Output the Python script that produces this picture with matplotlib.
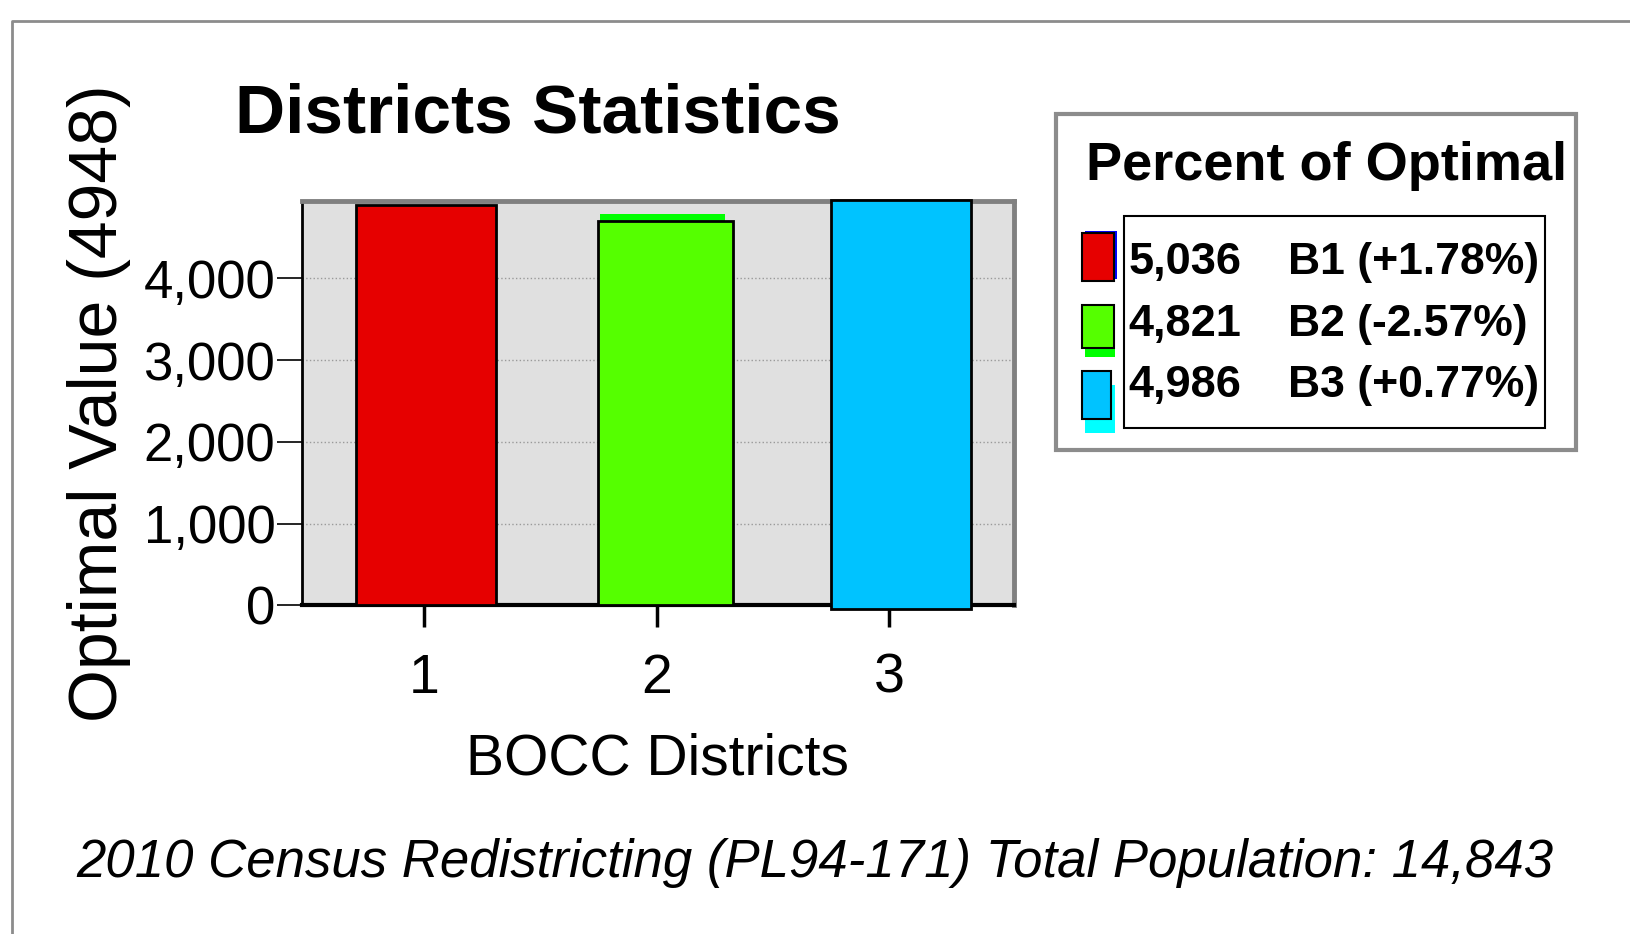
import matplotlib
matplotlib.use("Agg")
import matplotlib.pyplot as plt
from matplotlib.patches import Rectangle
from matplotlib.lines import Line2D

W, H = 1631, 934
S = 1631 / 1568  # layout was measured on a 1568 wide view

# data
districts = [1, 2, 3]
bar_values = [4900, 4700, 5010]
bar_bottoms = [0, 0, -50]
bar_colors = ["#e60000", "#55ff00", "#00c3ff"]
ghost_value = 4790
optimal = 4948
y_ticks = [0, 1000, 2000, 3000, 4000]
y_tick_labels = ["0", "1,000", "2,000", "3,000", "4,000"]
legend_values = ["5,036", "4,821", "4,986"]
legend_labels = ["B1 (+1.78%)", "B2 (-2.57%)", "B3 (+0.77%)"]

# the bars in the original sit a little off their ticks
bar_shift = [0.007, 0.037, 0.05]
bar_widths = [0.604, 0.577, 0.604]

plt.rcParams['font.family'] = ['Liberation Sans', 'DejaVu Sans']


def fx(px):
    return px * S / W


def fy(py):
    return 1 - py * S / H


def box(x0, y0, x1, y1, **kw):
    fig.add_artist(Rectangle((fx(x0), fy(y1)), fx(x1) - fx(x0), fy(y0) - fy(y1),
                             transform=fig.transFigure, **kw))


fig = plt.figure(figsize=(W / 100, H / 100), dpi=100)
fig.patch.set_facecolor("white")

# outer frame
fig.add_artist(Line2D([fx(12), fx(12), 1], [0, fy(20), fy(20)], color="#8c8c8c", lw=2))

ax = fig.add_axes([fx(290), fy(582), fx(975) - fx(290), fy(193) - fy(582)])
ax.set_facecolor("#e0e0e0")
ax.set_xlim(0.472, 3.537)
ax.set_ylim(0, optimal)

xpos = [d + s for d, s in zip(districts, bar_shift)]

# faint offset copy behind bar 2, as in the original
ax.bar(2.024, ghost_value, width=0.537, color="#00ff00", zorder=2)
bars = ax.bar(xpos, bar_values, width=bar_widths, bottom=bar_bottoms, color=bar_colors,
              edgecolor="black", linewidth=2, zorder=3)
for b in bars:
    b.set_clip_on(False)

ax.set_yticks(y_ticks)
ax.set_yticklabels(y_tick_labels)
ax.set_xticks(districts)
ax.grid(axis="y", color="#9a9a9a", linestyle=":", linewidth=1)
ax.set_axisbelow(True)
ax.tick_params(axis="y", length=18, width=1.2, labelsize=38, pad=1)
ax.tick_params(axis="x", length=16, width=2.5, labelsize=40, pad=18)

for s in ["top", "right"]:
    ax.spines[s].set_color("#808080")
    ax.spines[s].set_linewidth(3.5)
ax.spines["left"].set_linewidth(2)
ax.spines["bottom"].set_linewidth(3)

ax.set_xlabel("BOCC Districts", fontsize=41, labelpad=20)
fig.text(fx(95), fy(388), "Optimal Value (4948)", rotation=90, fontsize=49,
         ha="center", va="center")

fig.text(fx(517), fy(110), "Districts Statistics", fontsize=50, fontweight="bold",
         ha="center", va="center")
fig.text(fx(783), fy(830), "2010 Census Redistricting (PL94-171) Total Population: 14,843",
         fontsize=38, style="italic", ha="center", va="center")

# legend panel
box(1015, 110, 1515, 433, fill=False, edgecolor="#8c8c8c", lw=3)
fig.text(fx(1275), fy(160), "Percent of Optimal", fontsize=39, fontweight="bold",
         ha="center", va="center")
box(1081, 208, 1485, 411, fill=False, edgecolor="black", lw=1.5)

# little offset marks behind the swatches
box(1043, 222, 1074, 268, facecolor="#0000ff", edgecolor="none")
box(1043, 330, 1072, 343, facecolor="#00ff00", edgecolor="none")
box(1043, 370, 1072, 416, facecolor="#00ffff", edgecolor="none")

swatches = [(1040, 224, 1071, 270), (1040, 293, 1071, 335), (1040, 357, 1068, 403)]
row_y = [252, 312, 371]
for i in range(3):
    x0, y0, x1, y1 = swatches[i]
    box(x0, y0, x1, y1, facecolor=bar_colors[i], edgecolor="black", lw=1.5)
    fig.text(fx(1085), fy(row_y[i]), legend_values[i], fontsize=32.5, fontweight="bold",
             ha="left", va="center")
    fig.text(fx(1238), fy(row_y[i]), legend_labels[i], fontsize=32, fontweight="bold",
             ha="left", va="center")

fig.savefig("out.png", dpi=100)
